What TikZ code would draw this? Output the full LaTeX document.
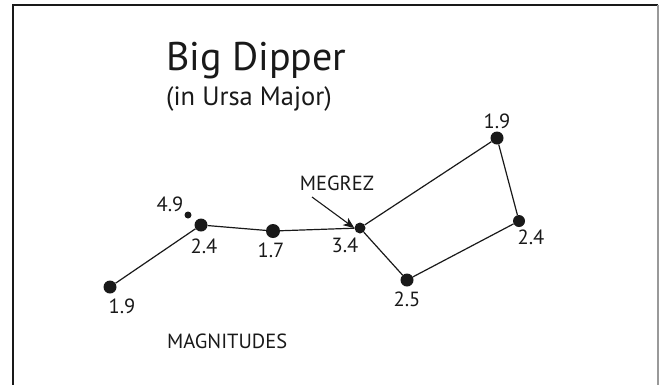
\documentclass[tikz,border=0pt]{standalone}
\usepackage{fontspec}
\setmainfont{PT Sans}
\usetikzlibrary{arrows.meta}
\begin{document}
\begin{tikzpicture}[x=1pt,y=-1pt,
  star/.style={circle,fill=black!90,inner sep=0pt,minimum size=#1},
  lbl/.style={inner sep=0pt,anchor=base,font=\fontsize{20.5}{22}\selectfont,text=black!90},
  edge/.style={line width=1.2pt,black!90}]
\useasboundingbox (0,0) rectangle (659,384);
\draw[line width=1.6pt,black!90] (13,396) coordinate (bl) -- (13,5) coordinate (tl) -- (658,5) coordinate (tr);
\draw[line width=1.2pt,black!40] (tr) -- (658,396);
% title
\node[inner sep=0pt,anchor=base west,font=\fontsize{40}{44}\selectfont,text=black!90] (title) at (166,70) {Big Dipper};
\node[inner sep=0pt,anchor=base west,font=\fontsize{26.5}{29}\selectfont,text=black!90] (sub) at (166,105) {(in Ursa Major)};
% stars
\node[star=13pt] (s1) at (110,287) {};
\node[star=7pt] (s49) at (188,215) {};
\node[star=13pt] (s2) at (201,225) {};
\node[star=14pt] (s3) at (273,231) {};
\node[star=11pt] (s4) at (360,228) {};
\node[star=13pt] (s5) at (407,280) {};
\node[star=12pt] (s6) at (519,221) {};
\node[star=13pt] (s7) at (497,138) {};
% lines
\draw[edge] (s1) -- (s2) -- (s3) -- (s4) -- (s7) -- (s6) -- (s5) -- (s4);
% labels
\node[lbl] (l1) at (122,313) {1.9};
\node[lbl] (l49) at (170,211) {4.9};
\node[lbl] (l2) at (204,253) {2.4};
\node[lbl] (l3) at (271,257) {1.7};
\node[lbl] (l4) at (345,252) {3.4};
\node[lbl] (l5) at (407,306) {2.5};
\node[lbl] (l6) at (531,244) {2.4};
\node[lbl] (l7) at (497,128) {1.9};
\node[lbl] (meg) at (337,190) {MEGREZ};
\node[inner sep=0pt,anchor=base west,font=\fontsize{20.5}{22}\selectfont,text=black!90] (mag) at (167,348) {MAGNITUDES};
% arrow
\coordinate (a0) at (312,197);
\draw[line width=1.1pt,black!90,-{Stealth[length=11pt,width=9pt,inset=3pt]}] (a0) -- (s4.west);
\end{tikzpicture}
\end{document}
